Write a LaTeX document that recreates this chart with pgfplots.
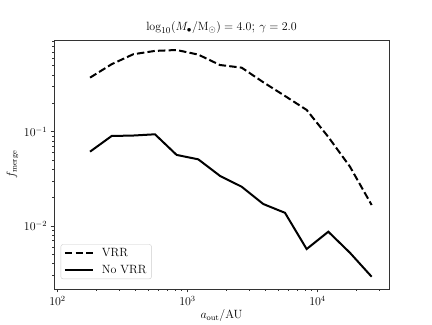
\documentclass[border=0pt]{standalone}
\usepackage{pgfplots}
\pgfplotsset{compat=1.18}

% a_out bins (AU), f_merge with and without VRR
\pgfplotstableread{
a       vrr     novrr
178     0.374   0.0614
261     0.519   0.0900
383     0.662   0.0910
562     0.718   0.0938
825     0.734   0.0567
1211    0.656   0.0509
1778    0.509   0.0340
2610    0.477   0.0261
3831    0.334   0.0171
5623    0.239   0.0138
8254    0.170   0.0057
12115   0.0879  0.0087
17783   0.0425  0.0052
26102   0.0167  0.0029
}\mergedata

\begin{document}
\begin{tikzpicture}
\begin{axis}[
  name=ax,
  scale only axis,
  width=335bp, height=249bp,
  xmode=log, ymode=log,
  xmin=94, xmax=35500,
  ymin=0.00215, ymax=0.937,
  axis line style={black!80, line width=0.6bp},
  tick pos=left,
  tick align=outside,
  major tick length=3.5bp,
  minor tick length=2bp,
  tick style={black!80, line width=0.6bp},
  tick label style={font=\fontsize{12}{14}\selectfont},
  title={$\log_{10}(M_\bullet/\mathrm{M}_\odot) = 4.0$; $\gamma = 2.0$},
  title style={font=\fontsize{13}{15}\selectfont, yshift=-3bp},
  xlabel={$a_\mathrm{out}/\mathrm{AU}$},
  ylabel={$f_\mathrm{merge}$},
  label style={font=\fontsize{12}{14}\selectfont},
  xlabel style={yshift=3bp},
  ylabel style={yshift=-1bp},
  legend cell align=left,
  legend style={draw=black!20, rounded corners=2bp, font=\fontsize{12}{14}\selectfont,
    inner xsep=3bp, inner ysep=2bp, row sep=3bp, at={(0.02,0.04)}, anchor=south west,
    /tikz/every odd column/.append style={column sep=6bp}},
  legend image code/.code={\draw[#1] (0bp,0bp) -- (28bp,0bp);},
]
\addplot[black, line width=2bp, dash pattern=on 7.4bp off 3.2bp] table[x=a, y=vrr] {\mergedata};
\addlegendentry{VRR}
\addplot[black, line width=2bp] table[x=a, y=novrr] {\mergedata};
\addlegendentry{No VRR}
\end{axis}
\path[use as bounding box] ([xshift=-54bp,yshift=-35bp]ax.south west) rectangle ([xshift=43bp,yshift=40bp]ax.north east);
\end{tikzpicture}
\end{document}
